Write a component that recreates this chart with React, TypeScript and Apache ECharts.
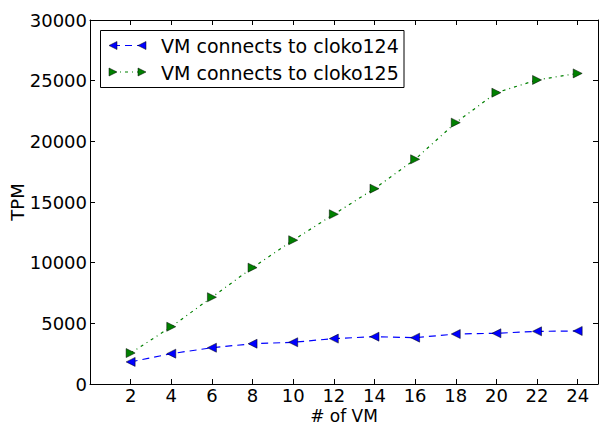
import React, { useEffect, useRef } from "react";
import * as echarts from "echarts";

const vmCounts = [2, 4, 6, 8, 10, 12, 14, 16, 18, 20, 22, 24];
const cloko124 = [1820, 2500, 2990, 3320, 3440, 3740, 3900, 3820, 4120, 4180, 4340, 4370];
const cloko125 = [2550, 4720, 7150, 9590, 11850, 13990, 16100, 18520, 21540, 24010, 25060, 25600];
const seriesNames = ["VM connects to cloko124", "VM connects to cloko125"];

const FONT = "DejaVu Sans";
const BLUE = "#0000ff";
const GREEN = "#008000";
const LEFT_TRI = "path://M0,1L2,0L2,2Z";
const RIGHT_TRI = "path://M2,1L0,0L0,2Z";

function tri(cx: number, cy: number, r: number, dir: number) {
  return dir < 0
    ? [[cx - r, cy], [cx + r, cy - r], [cx + r, cy + r]]
    : [[cx + r, cy], [cx - r, cy - r], [cx - r, cy + r]];
}

export default function App() {
  const ref = useRef<HTMLDivElement>(null);
  useEffect(() => {
    if (!ref.current) return;
    const chart = echarts.init(ref.current, undefined, { renderer: "svg" });
    const axisCommon = {
      axisLine: { show: true, onZero: false, lineStyle: { color: "#000", width: 1 } },
      splitLine: { show: false },
    };
    const xFmt = (v: number) => (v >= 2 && v <= 24 && v % 2 === 0 ? String(v) : "");
    const yFmt = (v: number) => String(v);
    const legendRows = [
      { y: 45.5, color: BLUE, dash: [7, 5], dir: -1, name: seriesNames[0] },
      { y: 72, color: GREEN, dash: [3, 4, 1, 4], dir: 1, name: seriesNames[1] },
    ];
    const graphic: any[] = [
      {
        type: "rect",
        shape: { x: 100.5, y: 30.5, width: 303.5, height: 57 },
        style: { fill: "#fff", stroke: "#000", lineWidth: 1 },
        z: 100,
      },
    ];
    legendRows.forEach((r) => {
      graphic.push({
        type: "line",
        shape: { x1: 113, y1: r.y, x2: 142, y2: r.y },
        style: { stroke: r.color, lineWidth: 1.2, lineDash: r.dash },
        z: 101,
      });
      [113, 142].forEach((cx) =>
        graphic.push({
          type: "polygon",
          shape: { points: tri(cx, r.y, 4, r.dir) },
          style: { fill: r.color, stroke: "#000", lineWidth: 0.5 },
          z: 102,
        })
      );
      graphic.push({
        type: "text",
        x: 161,
        y: r.y + 0.5,
        style: {
          text: r.name,
          font: `19px "${FONT}"`,
          fill: "#000",
          textVerticalAlign: "middle",
          verticalAlign: "middle",
        },
        z: 102,
      });
    });
    chart.setOption({
      animation: false,
      backgroundColor: "#fff",
      textStyle: { fontFamily: FONT },
      grid: { left: 90, right: 1, top: 20, bottom: 40, containLabel: false, outerBoundsMode: "none" },
      xAxis: [
        {
          type: "value",
          min: 0,
          max: 25,
          interval: 2,
          name: "# of VM",
          nameLocation: "middle",
          nameGap: 23,
          nameMoveOverlap: false,
          nameTextStyle: { fontSize: 17, lineHeight: 17, color: "#000", fontFamily: FONT },
          axisTick: { show: true, inside: true, length: 5, lineStyle: { color: "#000" } },
          axisLabel: { formatter: xFmt, fontSize: 18, lineHeight: 18, color: "#000", margin: 2, fontFamily: FONT },
          ...axisCommon,
        },
        {
          type: "value",
          position: "top",
          min: 0,
          max: 25,
          interval: 2,
          axisTick: { show: true, inside: true, length: 5, lineStyle: { color: "#000" } },
          axisLabel: { show: false },
          ...axisCommon,
        },
      ],
      yAxis: [
        {
          type: "value",
          min: 0,
          max: 30000,
          interval: 5000,
          name: "TPM",
          nameLocation: "middle",
          nameGap: 64,
          nameMoveOverlap: false,
          nameRotate: 90,
          nameTextStyle: { fontSize: 18, color: "#000", fontFamily: FONT },
          axisTick: { show: true, inside: true, length: 5, lineStyle: { color: "#000" } },
          axisLabel: { formatter: yFmt, fontSize: 18, color: "#000", margin: 3, fontFamily: FONT },
          ...axisCommon,
        },
        {
          type: "value",
          position: "right",
          min: 0,
          max: 30000,
          interval: 5000,
          axisTick: { show: true, inside: true, length: 5, lineStyle: { color: "#000" } },
          axisLabel: { show: false },
          ...axisCommon,
        },
      ],
      series: [
        {
          name: seriesNames[0],
          type: "line",
          data: vmCounts.map((x, i) => [x, cloko124[i]]),
          symbol: LEFT_TRI,
          symbolSize: 9,
          lineStyle: { color: BLUE, width: 1.2, type: [7, 5] },
          itemStyle: { color: BLUE, borderColor: "#000", borderWidth: 0.5 },
        },
        {
          name: seriesNames[1],
          type: "line",
          data: vmCounts.map((x, i) => [x, cloko125[i]]),
          symbol: RIGHT_TRI,
          symbolSize: 9,
          lineStyle: { color: GREEN, width: 1.2, type: [3, 4, 1, 4] },
          itemStyle: { color: GREEN, borderColor: "#000", borderWidth: 0.5 },
        },
      ],
      graphic,
    });
    return () => chart.dispose();
  }, []);
  return <div ref={ref} style={{ width: 599, height: 424, position: "absolute", left: 0, top: 0 }} />;
}
